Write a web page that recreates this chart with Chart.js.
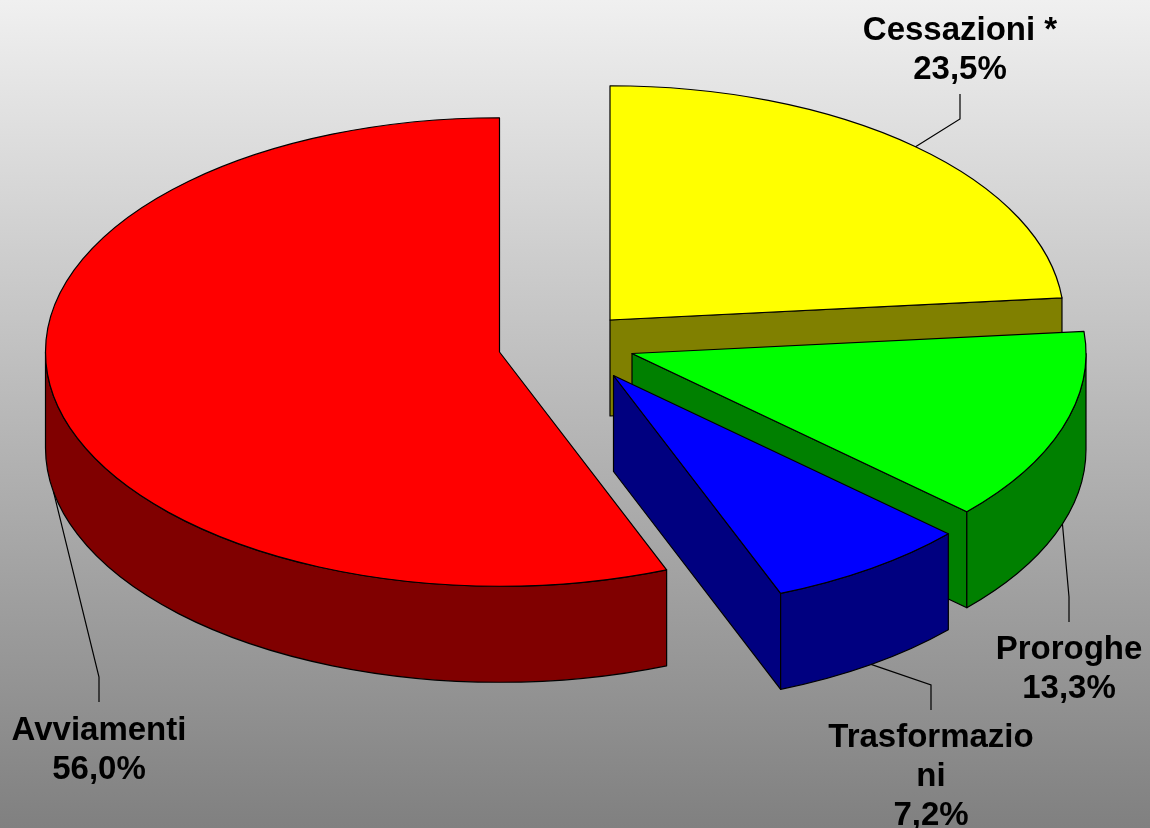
<!DOCTYPE html>
<html>
<head>
<meta charset="utf-8">
<style>html,body{margin:0;padding:0;background:#808080;overflow:hidden}#wrap{width:1150px;height:828px;position:relative}</style>
<script src="https://cdn.jsdelivr.net/npm/chart.js@4/dist/chart.umd.min.js"></script>
</head>
<body>
<div id="wrap"><canvas id="c"></canvas></div>
<script>
const categories = ['Cessazioni *', 'Proroghe', 'Trasformazio\nni', 'Avviamenti'];
const values = [23.5, 13.3, 7.2, 56.0];
const topColors = ['#FFFF00', '#00FF00', '#0000FF', '#FF0000'];
const wallColors = ['#808000', '#008000', '#000080', '#800000'];

// presentation settings (3D look and label placement)
const SQUASH = 0.516, DEPTH = 96, RADIUS = 454;
const shiftX = [45, 67, 48.5, -65.5];
const shiftY = [-25.5, 8, 30, 6.5];
const labelX = [960, 1069, 931, 99];
const labelY = [40, 659, 747, 740];
const elbowY = [119, 597, 685, 677];
const leaderEndY = [94, 622, 710, 702];
const FONT = 'bold 33px "Liberation Sans", Arial, sans-serif';
const LINE = 39;

const pie3d = {
  id: 'pie3d',
  beforeDraw(chart) {
    const { ctx, width, height } = chart;
    const g = ctx.createLinearGradient(0, 0, 0, height);
    g.addColorStop(0, '#f0f0f0');
    g.addColorStop(1, '#808080');
    ctx.save();
    ctx.fillStyle = g;
    ctx.fillRect(0, 0, width, height);
    ctx.restore();
  },
  beforeDatasetsDraw(chart) {
    const { ctx } = chart;
    const arcs = chart.getDatasetMeta(0).data;
    arcs.forEach((arc, i) => {
      const p = arc.getProps(['x', 'y', 'startAngle', 'endAngle', 'outerRadius']);
      const cx = p.x + shiftX[i], cy = p.y + shiftY[i];
      const rx = p.outerRadius, ry = p.outerRadius * SQUASH;
      const a0 = p.startAngle, a1 = p.endAngle;
      const px = t => cx + rx * Math.cos(t), py = t => cy + ry * Math.sin(t);
      ctx.save();
      ctx.lineWidth = 1.2;
      ctx.strokeStyle = '#000';
      ctx.lineJoin = 'round';
      ctx.fillStyle = wallColors[i];
      // radial cut faces turned to the viewer
      const radial = t => {
        ctx.beginPath();
        ctx.moveTo(cx, cy);
        ctx.lineTo(px(t), py(t));
        ctx.lineTo(px(t), py(t) + DEPTH);
        ctx.lineTo(cx, cy + DEPTH);
        ctx.closePath();
        ctx.fill();
        ctx.stroke();
      };
      if (Math.cos(a0) < -1e-6) radial(a0);
      if (Math.cos(a1) > 1e-6) radial(a1);
      // outer rim, front half only
      for (const k of [0, 2]) {
        const t0 = Math.max(a0, k * Math.PI), t1 = Math.min(a1, k * Math.PI + Math.PI);
        if (t1 > t0) {
          ctx.beginPath();
          ctx.ellipse(cx, cy, rx, ry, 0, t0, t1);
          ctx.ellipse(cx, cy + DEPTH, rx, ry, 0, t1, t0, true);
          ctx.closePath();
          ctx.fill();
          ctx.stroke();
        }
      }
      // top face: the library's own arc, squashed
      ctx.save();
      ctx.translate(cx, cy);
      ctx.scale(1, SQUASH);
      ctx.translate(-p.x, -p.y);
      arc.draw(ctx, chart.chartArea);
      ctx.restore();
      ctx.beginPath();
      ctx.moveTo(cx, cy);
      ctx.ellipse(cx, cy, rx, ry, 0, a0, a1);
      ctx.closePath();
      ctx.stroke();
      ctx.restore();
    });
    return false;
  },
  afterDraw(chart) {
    const { ctx } = chart;
    const arcs = chart.getDatasetMeta(0).data;
    ctx.save();
    ctx.fillStyle = '#000';
    ctx.strokeStyle = '#000';
    ctx.lineWidth = 1.2;
    ctx.font = FONT;
    ctx.textAlign = 'center';
    ctx.textBaseline = 'alphabetic';
    arcs.forEach((arc, i) => {
      const p = arc.getProps(['x', 'y', 'startAngle', 'endAngle', 'outerRadius']);
      const mid = (p.startAngle + p.endAngle) / 2;
      const ax = p.x + shiftX[i] + p.outerRadius * Math.cos(mid);
      let ay = p.y + shiftY[i] + p.outerRadius * SQUASH * Math.sin(mid);
      if (Math.sin(mid) > 0) ay += DEPTH;
      ctx.beginPath();
      ctx.moveTo(ax, ay);
      ctx.lineTo(labelX[i], elbowY[i]);
      ctx.lineTo(labelX[i], leaderEndY[i]);
      ctx.stroke();
      const lines = categories[i].split('\n').concat(values[i].toFixed(1).replace('.', ',') + '%');
      lines.forEach((s, n) => ctx.fillText(s, labelX[i], labelY[i] + n * LINE));
    });
    ctx.restore();
  }
};

new Chart(document.getElementById('c'), {
  type: 'pie',
  plugins: [pie3d],
  data: {
    labels: categories,
    datasets: [{ data: values, backgroundColor: topColors, borderWidth: 0 }]
  },
  options: {
    responsive: true,
    maintainAspectRatio: false,
    animation: false,
    radius: RADIUS,
    layout: { padding: { right: 20, bottom: 137 } },
    plugins: { legend: { display: false }, tooltip: { enabled: false }, title: { display: false } }
  }
});
</script>
</body>
</html>
